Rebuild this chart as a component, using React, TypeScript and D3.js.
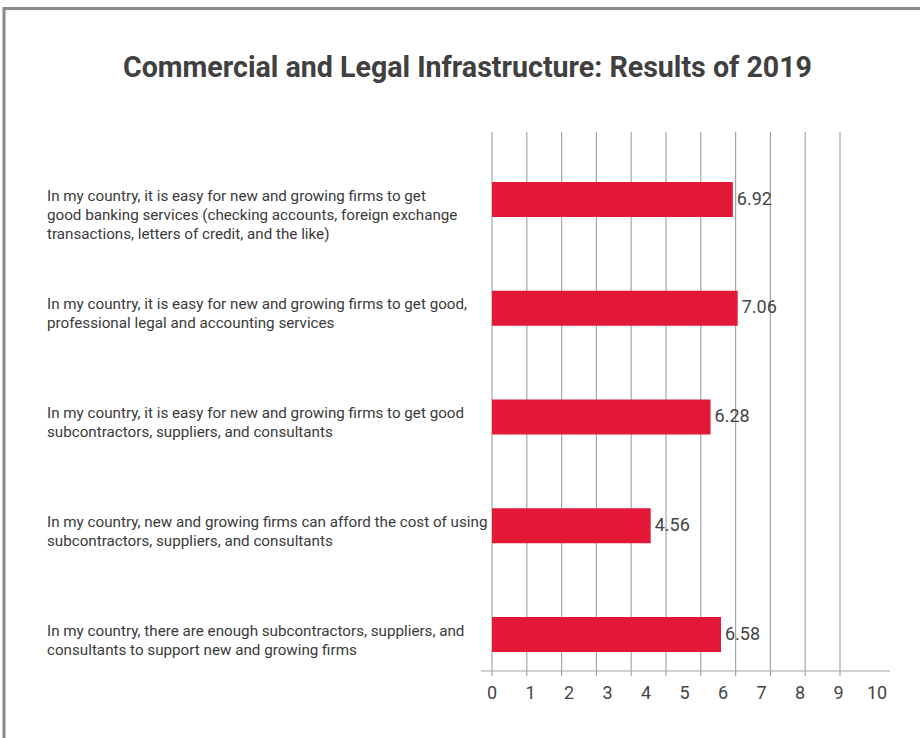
import React from "react";
import * as d3 from "d3";

const title = "Commercial and Legal Infrastructure: Results of 2019";

const categories: string[][] = [
  [
    "In my country, it is easy for new and growing firms to get",
    "good banking services (checking accounts, foreign exchange",
    "transactions, letters of credit, and the like)",
  ],
  [
    "In my country, it is easy for new and growing firms to get good,",
    "professional legal and accounting services",
  ],
  [
    "In my country, it is easy for new and growing firms to get good",
    "subcontractors, suppliers, and consultants",
  ],
  [
    "In my country, new and growing firms can afford the cost of using",
    "subcontractors, suppliers, and consultants",
  ],
  [
    "In my country, there are enough subcontractors, suppliers, and",
    "consultants to support new and growing firms",
  ],
];

const values: number[] = [6.92, 7.06, 6.28, 4.56, 6.58];
const valueLabels: string[] = ["6.92", "7.06", "6.28", "4.56", "6.58"];
const tickValues: number[] = [0, 1, 2, 3, 4, 5, 6, 7, 8, 9, 10];

const W = 920;
const H = 738;
const FONT = "Roboto, 'Noto Sans', sans-serif";

export default function App() {
  const x = d3.scaleLinear().domain([0, 10]).range([492, 840]);
  const xLabel = d3.scaleLinear().domain([0, 10]).range([492, 877]);
  const y = d3
    .scalePoint<number>()
    .domain(d3.range(categories.length))
    .range([199.5, 634.5]);
  const barH = 35;
  const plotTop = 132;
  const axisY = 671;

  return (
    <div style={{ position: "fixed", left: 0, top: 0, width: W, height: H, background: "#fff" }}>
      <svg width={W} height={H} style={{ display: "block" }}>
        <rect x={0} y={0} width={W} height={H} fill="#fff" />
        {/* frame */}
        <line x1={4} y1={8.5} x2={W + 5} y2={8.5} stroke="#8a8a8a" strokeWidth={3} />
        <line x1={4} y1={7} x2={4} y2={H + 5} stroke="#8a8a8a" strokeWidth={3} />

        <text
          x={467.5}
          y={77}
          textAnchor="middle"
          fontFamily={FONT}
          fontWeight={700}
          fontSize={28.6}
          fill="#404040"
        >
          {title}
        </text>

        {/* gridlines + ticks */}
        {tickValues.map((t) => (
          <line
            key={"g" + t}
            x1={x(t)}
            x2={x(t)}
            y1={plotTop}
            y2={axisY + 5}
            stroke="#a6a6a6"
            strokeWidth={1.2}
          />
        ))}
        <line x1={481} x2={890} y1={axisY} y2={axisY} stroke="#a6a6a6" strokeWidth={1.2} />

        {/* tick labels */}
        {tickValues.map((t) => (
          <text
            key={"t" + t}
            x={xLabel(t)}
            y={699}
            textAnchor="middle"
            fontFamily={FONT}
            fontSize={18}
            fill="#444"
          >
            {t}
          </text>
        ))}

        {/* bars */}
        {values.map((v, i) => (
          <rect
            key={"b" + i}
            x={x(0)}
            y={(y(i) as number) - barH / 2}
            width={x(v) - x(0)}
            height={barH}
            fill="#E31837"
          />
        ))}

        {/* value labels */}
        {values.map((v, i) => (
          <text
            key={"v" + i}
            x={x(v) + 4}
            y={(y(i) as number) + 5}
            fontFamily={FONT}
            fontSize={18}
            fill="#444"
          >
            {valueLabels[i]}
          </text>
        ))}

        {/* category labels */}
        {categories.map((lines, i) => (
          <text key={"c" + i} fontFamily={FONT} fontSize={15.2} fill="#3a3a3a">
            {lines.map((ln, j) => (
              <tspan key={j} x={47} y={(y(i) as number) + 1 + j * 19}>
                {ln}
              </tspan>
            ))}
          </text>
        ))}
      </svg>
    </div>
  );
}
